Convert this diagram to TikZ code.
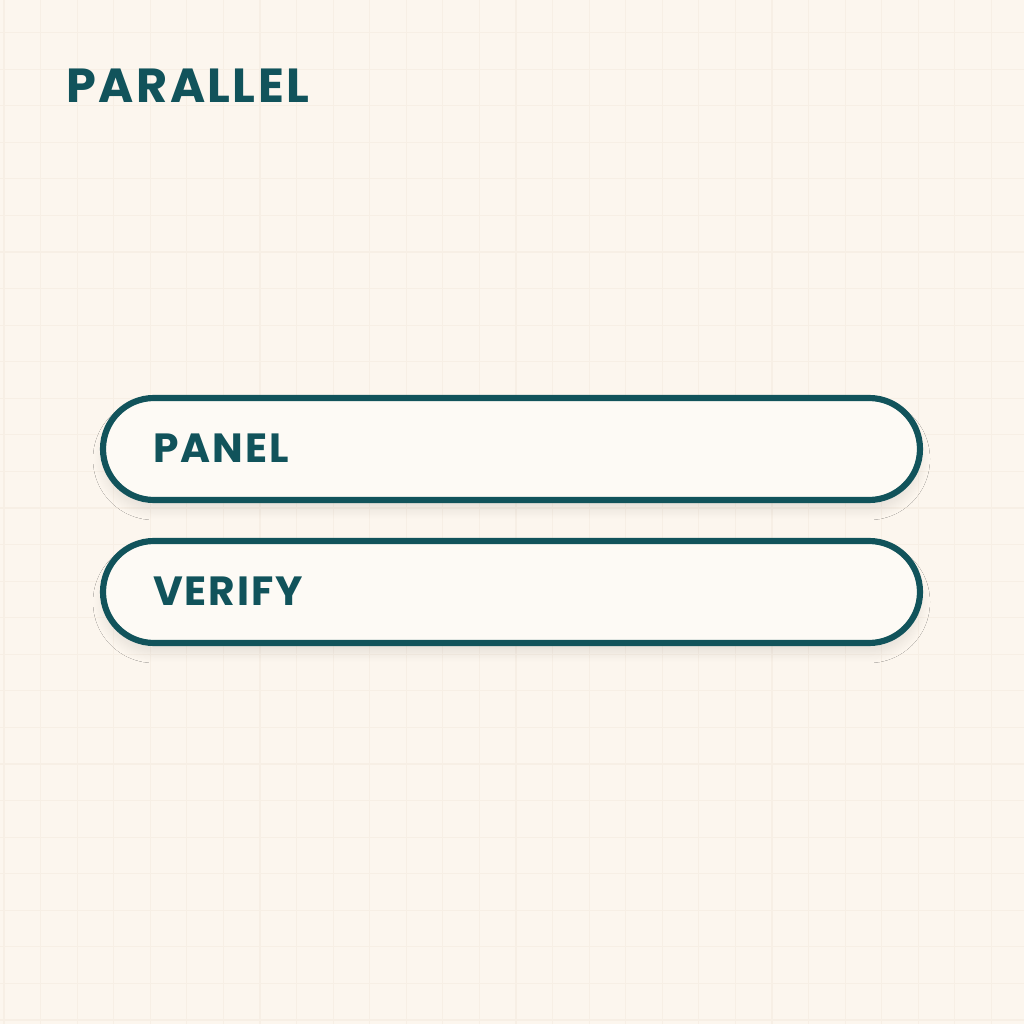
\documentclass[tikz,border=0pt]{standalone}
\usepackage{fontspec}
\setmainfont{Poppins}[BoldFont={* Bold}, LetterSpace=5]
\usetikzlibrary{shadows.blur}

\begin{document}
\begin{tikzpicture}
					\definecolor{cream}{HTML}{FCF6EE}
					\definecolor{gridline}{HTML}{F7EFE5}
					\definecolor{deepteal}{HTML}{11535B}
					\tikzset{
						pill/.style={draw=deepteal, line width=1.75pt, fill=cream!60!white,
							rounded corners=0.51cm, minimum width=8.17cm, minimum height=1.02cm,
							text width=7.17cm, inner xsep=0.5cm, align=left,
							text height=0.28cm, text depth=0pt, text=deepteal,
							font=\fontsize{11.6pt}{12pt}\selectfont\bfseries,
							blur shadow={shadow xshift=0cm, shadow yshift=-0.1cm, shadow blur radius=0.1cm, shadow opacity=9, shadow blur steps=12}}
					}
					\fill[cream] (0,0) rectangle (10.24,10.24);
					\useasboundingbox (0,0) rectangle (10.24,10.24);
					\draw[gridline, line width=0.3pt, shift={(0.04,0.04)}] (-0.04,-0.04) grid[step=0.3657] (10.24,10.24);
					
					\node[anchor=base west, inner sep=0pt, text=deepteal, font=\fontsize{13.6pt}{14pt}\selectfont\bfseries] (title) at (0.66,9.21) {PARALLEL};
					
					\node[pill] (panel) at (5.115,5.75) {PANEL};
					\node[pill] (verify) at (5.115,4.32) {VERIFY};
				\end{tikzpicture}
\end{document}
